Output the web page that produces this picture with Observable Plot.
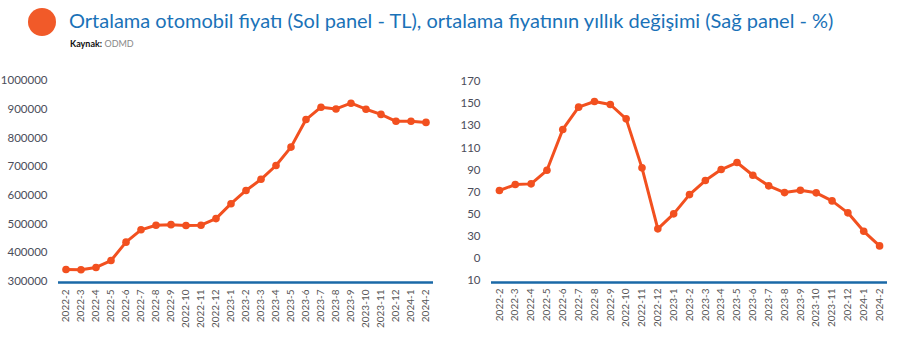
<!DOCTYPE html>
<html>
<head>
<meta charset="utf-8">
<script src="https://cdn.jsdelivr.net/npm/d3@7"></script>
<script src="https://cdn.jsdelivr.net/npm/@observablehq/plot@0.6"></script>
<style>
  body { margin: 0; background: #fff; }
  #wrap { position: relative; width: 900px; height: 352px; overflow: hidden; font-family: Lato, "Open Sans", sans-serif; }
  #dot { position: absolute; left: 28px; top: 8px; width: 28px; height: 28px; border-radius: 50%; background: #f15a29; }
  #title { position: absolute; left: 69px; top: 10px; font-size: 20px; color: #1a72b8; white-space: nowrap; line-height: 1; }
  #src { position: absolute; left: 70px; top: 39px; font-size: 9px; color: #888; white-space: nowrap; line-height: 1; }
  #src b { color: #111; }
  #left { position: absolute; left: 0; top: 55px; }
  #right { position: absolute; left: 450px; top: 55px; }
</style>
</head>
<body>
<div id="wrap">
  <div id="dot"></div>
  <div id="title">Ortalama otomobil fiyatı (Sol panel - TL), ortalama fiyatının yıllık değişimi (Sağ panel - %)</div>
  <div id="src"><b>Kaynak:</b> ODMD</div>
  <div id="left"></div>
  <div id="right"></div>
</div>
<script>
const months = ["2022-2","2022-3","2022-4","2022-5","2022-6","2022-7","2022-8","2022-9","2022-10","2022-11","2022-12",
  "2023-1","2023-2","2023-3","2023-4","2023-5","2023-6","2023-7","2023-8","2023-9","2023-10","2023-11","202-12","2024-1","2024-2"];
const leftValues = [342000, 341000, 349000, 373000, 437000, 480000, 496000, 498000, 495000, 496000, 519000,
  571000, 617000, 656000, 704000, 768000, 864000, 907000, 901000, 921000, 900000, 882000, 858000, 858000, 854000];
const rightValues = [71.4, 76.8, 77.4, 89.7, 126.6, 146.8, 151.9, 149.2, 136.2, 91.9, 36.7,
  50.3, 67.7, 80.4, 90.4, 96.7, 85.2, 75.6, 69.5, 71.6, 69.3, 62.0, 51.2, 34.5, 21.3];
const leftTicks = [300000, 400000, 500000, 600000, 700000, 800000, 900000, 1000000];
const rightTicks = [-10, 10, 30, 50, 70, 90, 110, 130, 150, 170];
const rightTickLabels = ["10", "0", "30", "50", "70", "90", "110", "130", "150", "170"];

const leftData = months.map((m, i) => ({month: m, value: leftValues[i]}));
const rightData = months.map((m, i) => ({month: m, value: rightValues[i]}));

const lineColor = "#f2501f";
const axisBlue = "#1a69a7";
const style = {fontFamily: "Lato, 'Open Sans', sans-serif", fontSize: "11px", color: "#4a4d5a", background: "transparent", overflow: "visible"};

function panel(data, opts) {
  return Plot.plot({
    width: 450,
    height: 297,
    marginLeft: opts.ml,
    marginRight: opts.mr,
    marginTop: opts.mt,
    marginBottom: opts.mb,
    style,
    x: {type: "point", domain: months, padding: 0.5, round: false, label: null},
    y: {domain: opts.domain, label: null},
    marks: [
      Plot.axisY({ticks: opts.ticks, tickFormat: opts.fmt, tickSize: 0, tickPadding: opts.tp, label: null, fontSize: 11.5}),
      Plot.axisX({tickRotate: -90, tickSize: 0, tickPadding: 8, label: null, fontSize: 10, fill: "#555"}),
      Plot.ruleY([opts.domain[0]], {stroke: axisBlue, strokeWidth: 2.5, dy: opts.ruleDy}),
      Plot.line(data, {x: "month", y: "value", stroke: lineColor, strokeWidth: 3}),
      Plot.dot(data, {x: "month", y: "value", fill: lineColor, r: 3.8})
    ]
  });
}

document.getElementById("left").append(panel(leftData, {
  ml: 58, mr: 17, mt: 25, mb: 71, domain: [300000, 1000000], ticks: leftTicks,
  fmt: d => String(d), tp: 11, ruleDy: 1
}));
document.getElementById("right").append(panel(rightData, {
  ml: 41, mr: 13, mt: 26, mb: 72, domain: [-10, 170], ticks: rightTicks,
  fmt: d => rightTickLabels[rightTicks.indexOf(d)], tp: 11, ruleDy: 2
}));
</script>
</body>
</html>
